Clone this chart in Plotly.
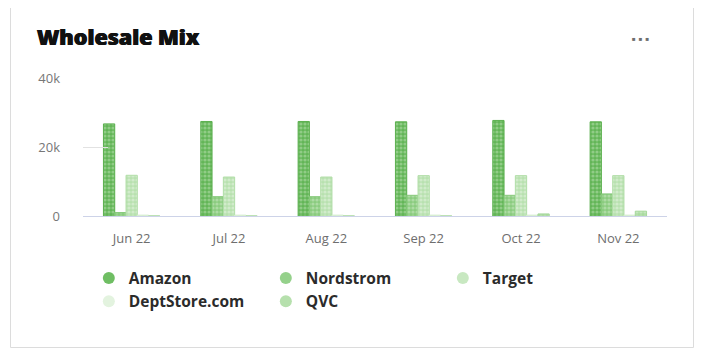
import plotly.graph_objects as go

months = ["Jun 22", "Jul 22", "Aug 22", "Sep 22", "Oct 22", "Nov 22"]
amazon = [26700, 27400, 27400, 27300, 27700, 27300]
nordstrom = [1000, 5600, 5600, 6000, 6000, 6400]
target = [11800, 11300, 11300, 11700, 11700, 11700]
deptstore = [250, 250, 250, 250, 250, 250]
qvc = [0, 0, 0, 0, 600, 1400]

y_ticks = [0, 20000, 40000]
y_tick_text = ["0", "20k", "40k"]

series = [
    ("Amazon", amazon, "#62b556", "#c0e4b8", "#5cb04f", "#6fbe63"),
    ("Nordstrom", nordstrom, "#8acb7e", "#d0ebc9", "#86c97a", "#95d18b"),
    ("Target", target, "#b8e1af", "#eaf6e7", "#b2dea8", "#c8e8c1"),
    ("DeptStore.com", deptstore, "#dcf0d7", "#f2faf0", "#d5edcf", "#e3f3df"),
    ("QVC", qvc, "#aadba0", "#dff2da", "#a6d89c", "#b6e0ad"),
]

# page body has an 8px margin; figure is sized to fit the window
W, H, OFF = 702, 347, 8

fig = go.Figure()
for name, vals, bg, fg, line, leg in series:
    fig.add_trace(go.Bar(
        x=months, y=vals, name=name, showlegend=False,
        marker=dict(color=bg, line=dict(color=line, width=1),
                    pattern=dict(shape=".", fgcolor=fg, bgcolor=bg, size=4, solidity=0.5)),
    ))
for name, vals, bg, fg, line, leg in series:
    fig.add_trace(go.Scatter(
        x=[None], y=[None], mode="markers", name=name,
        marker=dict(symbol="circle", size=15, color=leg),
    ))

fig.update_layout(
    width=W, height=H,
    margin=dict(l=83-OFF, r=43, t=78-OFF, b=139, autoexpand=False),
    paper_bgcolor="white", plot_bgcolor="white",
    barmode="group", bargap=0.42, bargroupgap=0,
    title=dict(text="Wholesale Mix", x=(37-OFF)/W, xanchor="left", xref="container",
               y=1-(37-OFF)/H, yanchor="middle", yref="container", pad=dict(l=0, r=0, t=0, b=0),
               font=dict(family="Open Sans", size=21.5, color="#111111", weight=800,
                         shadow="0.5px 0 0 #111, -0.5px 0 0 #111")),
    font=dict(family="Open Sans", color="#707070"),
    showlegend=True,
    legend=dict(orientation="h", x=0.01, xanchor="left", y=-0.33, yanchor="top",
                entrywidth=132, entrywidthmode="pixels",
                font=dict(family="Open Sans", size=15.5, color="#2b2b2b", weight=700),
                itemsizing="constant", tracegroupgap=0),
    xaxis=dict(showgrid=False, showline=True, linecolor="#cdd3e8", linewidth=1,
               ticks="", tickfont=dict(size=13, color="#6e6e6e"),
               ticklabelstandoff=10, fixedrange=True),
    yaxis=dict(range=[0, 40000], tickvals=y_ticks, ticktext=y_tick_text,
               showgrid=False, zeroline=False, ticks="inside", ticklen=25,
               tickcolor="#e2e2e2", tickwidth=1, ticklabelstandoff=22,
               tickfont=dict(size=13, color="#777777"), fixedrange=True),
    shapes=[dict(type="rect", xref="paper", yref="paper",
                 x0=(10.5-83)/584, x1=(693.5-83)/584,
                 y0=(216-347.5)/138, y1=(216-7.5)/138,
                 line=dict(color="#dcdcdc", width=1), fillcolor="rgba(0,0,0,0)", layer="below")],
    annotations=[dict(text="■  ■  ■", xref="paper", yref="paper",
                      x=(651-83)/584, y=(216-33)/138, showarrow=False,
                      font=dict(size=6, color="#6e6e6e"))],
)

fig.write_html("out.html")
